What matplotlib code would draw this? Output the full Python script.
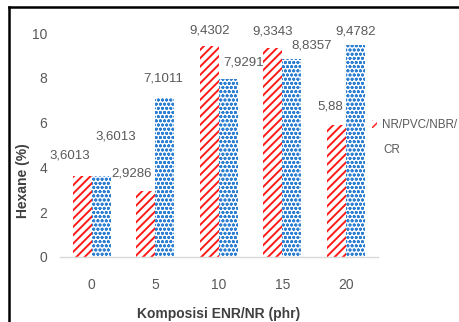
import numpy as np
import matplotlib
matplotlib.use("Agg")
import matplotlib.pyplot as plt
from matplotlib.lines import Line2D

plt.rcParams['font.family'] = ['Liberation Sans', 'DejaVu Sans']

# Data
categories = ['0', '5', '10', '15', '20']
nr_pvc_nbr = [3.6013, 2.9286, 9.4302, 9.3343, 5.88]
cr = [3.6013, 7.1011, 7.9291, 8.8357, 9.4782]
nr_labels = ['3,6013', '2,9286', '9,4302', '9,3343', '5,88']
cr_labels = ['3,6013', '7,1011', '7,9291', '8,8357', '9,4782']

grey = '#595959'
red = '#ff1a1a'
blue = '#2e7fd0'

fig = plt.figure(figsize=(4.6, 3.22), dpi=100)
ax = fig.add_axes([0.130, 0.2019, 0.691, 0.6956])

x = np.arange(len(categories))
w = 0.3

with plt.rc_context({'hatch.linewidth': 1.4}):
    b1 = ax.bar(x - w / 2, nr_pvc_nbr, w, color='white', edgecolor=red,
                hatch='////', linewidth=0)
with plt.rc_context({'hatch.linewidth': 0.9}):
    b2 = ax.bar(x + w / 2, cr, w, color='white', edgecolor=blue,
                hatch='oooo', linewidth=0)

# data labels were dragged around by hand, so keep per-label nudges
nr_off = [(-0.19, 0.95), (-0.22, 0.82), (0.01, 0.66), (0.0, 0.75), (-0.09, 0.82)]
cr_off = [(0.23, 1.76), (-0.02, 0.85), (0.24, 0.77), (0.31, 0.62), (0.0, 0.61)]
for i in range(len(categories)):
    dx, dy = nr_off[i]
    ax.text(x[i] - w / 2 + dx, nr_pvc_nbr[i] + dy, nr_labels[i],
            ha='center', va='center', color=grey, fontsize=9.5, clip_on=False)
    dx, dy = cr_off[i]
    ax.text(x[i] + w / 2 + dx, cr[i] + dy, cr_labels[i],
            ha='center', va='center', color=grey, fontsize=9.5, clip_on=False)

ax.set_xlim(-0.5, len(categories) - 0.5)
ax.set_ylim(0, 10)
ax.set_yticks([0, 2, 4, 6, 8, 10])
ax.set_xticks(x)
ax.set_xticklabels(categories)
ax.tick_params(axis='both', length=0, colors=grey, labelsize=10)
ax.tick_params(axis='y', pad=9)
ax.tick_params(axis='x', pad=15)
for s in ['top', 'right', 'left']:
    ax.spines[s].set_visible(False)
ax.spines['bottom'].set_color('#d9d9d9')
ax.spines['bottom'].set_linewidth(1.0)

ax.set_ylabel('Hexane (%)', fontsize=10, fontweight='bold', color='#404040')
ax.yaxis.set_label_coords(-0.095, 0.34)
ax.set_xlabel('Komposisi ENR/NR (phr)', fontsize=10, fontweight='bold', color='#404040', labelpad=11)

# legend: only the first series shows, its name wraps onto a second line
fig.legend(handles=[b1], labels=['NR/PVC/NBR/'], loc='center left',
           bbox_to_anchor=(0.809, 0.611), frameon=False, fontsize=8.4,
           handlelength=0.45, handleheight=0.6, handletextpad=0.4,
           borderpad=0, borderaxespad=0, labelcolor=grey)
fig.text(0.834, 0.534, 'CR', ha='left', va='center', fontsize=8.4, color=grey)

# outer frame
fig.add_artist(Line2D([0.02, 1.0], [0.978, 0.978], color='black', linewidth=1.8, transform=fig.transFigure))
fig.add_artist(Line2D([0.02, 0.02], [0.0, 0.978], color='black', linewidth=1.8, transform=fig.transFigure))

fig.savefig('out.png', dpi=100)
